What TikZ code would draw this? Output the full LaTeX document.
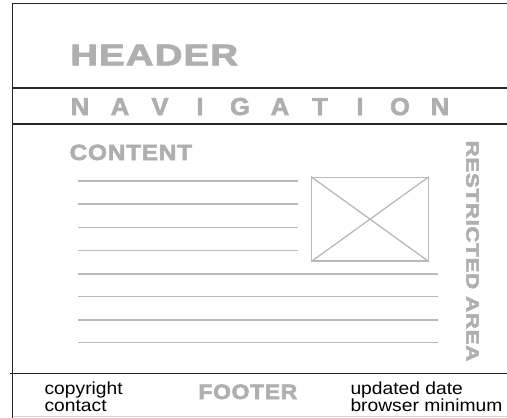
\documentclass[tikz,border=0pt]{standalone}
\usepackage{fontspec}
\usepackage{graphicx}
\newfontfamily\wireframefont{Liberation Sans}
\newfontfamily\wireframebold[FakeBold=2.5, LetterSpace=3]{Liberation Sans Bold}
\definecolor{wiregray}{RGB}{175,175,175}
\definecolor{linegray}{RGB}{186,186,186}
\begin{document}
\begin{tikzpicture}[x=1pt,y=-1pt]
    % --- 样式设置 ---
    \tikzstyle{frameline}=[line width=1.8pt, black!85]
    \tikzstyle{textline}=[line width=1.3pt, linegray]
    \tikzstyle{blocktitle}=[inner sep=0pt, wiregray, anchor=base west]
    \tikzstyle{smalltext}=[inner sep=0pt, black, anchor=base west, font=\wireframefont\fontsize{17.5}{18}\selectfont]

    % 0. 画布大小 (与原图比例一致)
    \useasboundingbox (0,0) rectangle (507,418);
    \fill[white] (0,0) rectangle (507,418);

    % 1. 外框与各区域分隔线
    \draw[frameline] (12.5,418) -- (12.5,3.5) -- (507,3.5);
    \draw[frameline] (12.5,88.3) -- (507,88.3);
    \draw[frameline] (12.5,124) -- (507,124);
    \draw[frameline] (10,373.5) -- (507,373.5);
    \draw[black!15, line width=1pt] (12.5,416.8) -- (507,416.8);

    % 2. 页眉与导航栏 (导航字母等距排开)
    \node[blocktitle, font=\wireframebold\fontsize{30}{31}\selectfont] (header) at (70,65.3) {\scalebox{1.28}[1]{HEADER}};
    \foreach \ch [count=\i from 0] in {N,A,V,I,G,A,T,I,O,N}
        \node[blocktitle, anchor=base, font=\wireframebold\fontsize{24.5}{25}\selectfont] (nav\i) at (80+40*\i,115) {\scalebox{1.04}[1]{\ch}};

    % 3. 内容区: 标题, 文字行, 图片占位框
    \node[blocktitle, font=\wireframebold\fontsize{22}{23}\selectfont] (content) at (69.5,160) {\scalebox{1.11}[1]{CONTENT}};
    \foreach \y in {181,204,227.3,250.3}
        \draw[textline] (78,\y) -- (298,\y);
    \node[textline, draw, inner sep=0pt, minimum width=116.6pt, minimum height=83.7pt] (imgbox) at (370,219.2) {};
    \draw[textline] (imgbox.north west) -- (imgbox.south east);
    \draw[textline] (imgbox.south west) -- (imgbox.north east);
    \foreach \y in {274,296.7,320,342.7}
        \draw[textline] (78,\y) -- (437.7,\y);

    % 4. 右侧竖排文字
    \node[blocktitle, anchor=center, rotate=-90, font=\wireframebold\fontsize{18}{19}\selectfont] (restricted) at (472.5,251) {\scalebox{1.24}[1]{RESTRICTED AREA}};

    % 5. 页脚
    \node[blocktitle, font=\wireframebold\fontsize{20.8}{22}\selectfont] (footer) at (198.3,399) {\scalebox{1.1}[1]{FOOTER}};
    \node[smalltext] (copyright) at (44.4,394) {\scalebox{1.1}[1]{copyright}};
    \node[smalltext] (contact) at (44.4,411.7) {\scalebox{1.1}[1]{contact}};
    \node[smalltext] (updated) at (350.3,394) {\scalebox{1.1}[1]{updated date}};
    \node[smalltext] (browser) at (350.3,411.7) {\scalebox{1.1}[1]{browser minimum}};

\end{tikzpicture}
\end{document}
